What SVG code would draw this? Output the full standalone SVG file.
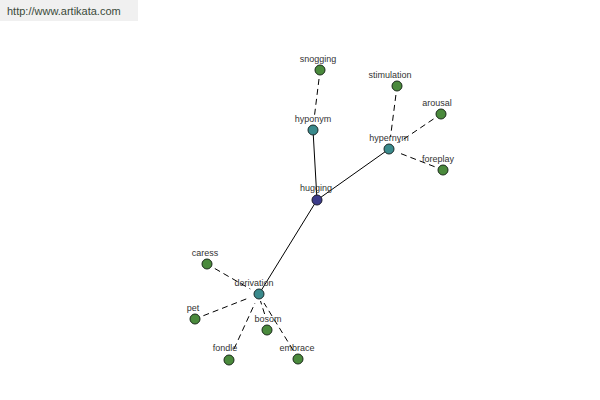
<svg xmlns="http://www.w3.org/2000/svg" width="600" height="400" viewBox="0 0 600 400">
<style>
.lbl{font-family:"Liberation Sans",Arial,sans-serif;font-size:9px;fill:#333;text-anchor:middle}
.solid{stroke:#000;stroke-width:1;fill:none}
.dash{stroke:#000;stroke-width:1;fill:none;stroke-dasharray:6,4}
.leaf{fill:#4a8a3c;stroke:#1a2a1a;stroke-width:1}
.mid{fill:#3a8a8c;stroke:#1a2a2a;stroke-width:1}
.root{fill:#3c3c8a;stroke:#1a1a2a;stroke-width:1}
</style>
<rect width="600" height="400" fill="#fff"/>
<g id="watermark">
<rect x="0" y="0" width="138" height="21" fill="#f0f0f0"/>
<text x="7" y="15" style="font-family:'Liberation Sans',Arial,sans-serif;font-size:11px;fill:#3a4a3a">http://www.artikata.com</text>
</g>
<g id="connectors">
<line class="solid" x1="317" y1="200" x2="313" y2="130"/>
<line class="solid" x1="317" y1="200" x2="389" y2="149"/>
<line class="solid" x1="317" y1="200" x2="259" y2="294"/>
<line class="dash" x1="319" y1="79" x2="314.2" y2="118"/>
<line class="dash" x1="395.9" y1="95" x2="390.5" y2="137"/>
<line class="dash" x1="433.5" y1="119" x2="399" y2="142.3"/>
<line class="dash" x1="434.6" y1="166.7" x2="399" y2="152.9"/>
<line class="dash" x1="214.8" y1="268.5" x2="250.3" y2="289"/>
<line class="dash" x1="203.4" y1="315.7" x2="249.7" y2="297.6"/>
<line class="dash" x1="264.6" y1="314" x2="260.5" y2="301"/>
<line class="dash" x1="234" y1="349" x2="255" y2="303"/>
<line class="dash" x1="293" y1="350" x2="264" y2="303"/>
</g>
<g id="hugging"><circle class="root" cx="317" cy="200" r="5"/><text class="lbl" x="316" y="191">hugging</text></g>
<g id="hyponym"><circle class="mid" cx="313" cy="130" r="5"/><text class="lbl" x="313" y="122">hyponym</text></g>
<g id="hypernym"><circle class="mid" cx="389" cy="149" r="5"/><text class="lbl" x="389" y="141">hypernym</text></g>
<g id="derivation"><circle class="mid" cx="259" cy="294" r="5"/><text class="lbl" x="254" y="286">derivation</text></g>
<g id="snogging"><circle class="leaf" cx="320" cy="70" r="5"/><text class="lbl" x="318" y="62">snogging</text></g>
<g id="stimulation"><circle class="leaf" cx="397" cy="86" r="5"/><text class="lbl" x="390" y="78">stimulation</text></g>
<g id="arousal"><circle class="leaf" cx="441" cy="114" r="5"/><text class="lbl" x="437" y="106">arousal</text></g>
<g id="foreplay"><circle class="leaf" cx="443" cy="170" r="5"/><text class="lbl" x="438" y="162">foreplay</text></g>
<g id="caress"><circle class="leaf" cx="207" cy="264" r="5"/><text class="lbl" x="205" y="256">caress</text></g>
<g id="pet"><circle class="leaf" cx="195" cy="319" r="5"/><text class="lbl" x="193" y="311">pet</text></g>
<g id="bosom"><circle class="leaf" cx="267" cy="330" r="5"/><text class="lbl" x="268" y="322">bosom</text></g>
<g id="fondle"><circle class="leaf" cx="229" cy="360" r="5"/><text class="lbl" x="225" y="351">fondle</text></g>
<g id="embrace"><circle class="leaf" cx="298" cy="359" r="5"/><text class="lbl" x="297" y="351">embrace</text></g>
</svg>
